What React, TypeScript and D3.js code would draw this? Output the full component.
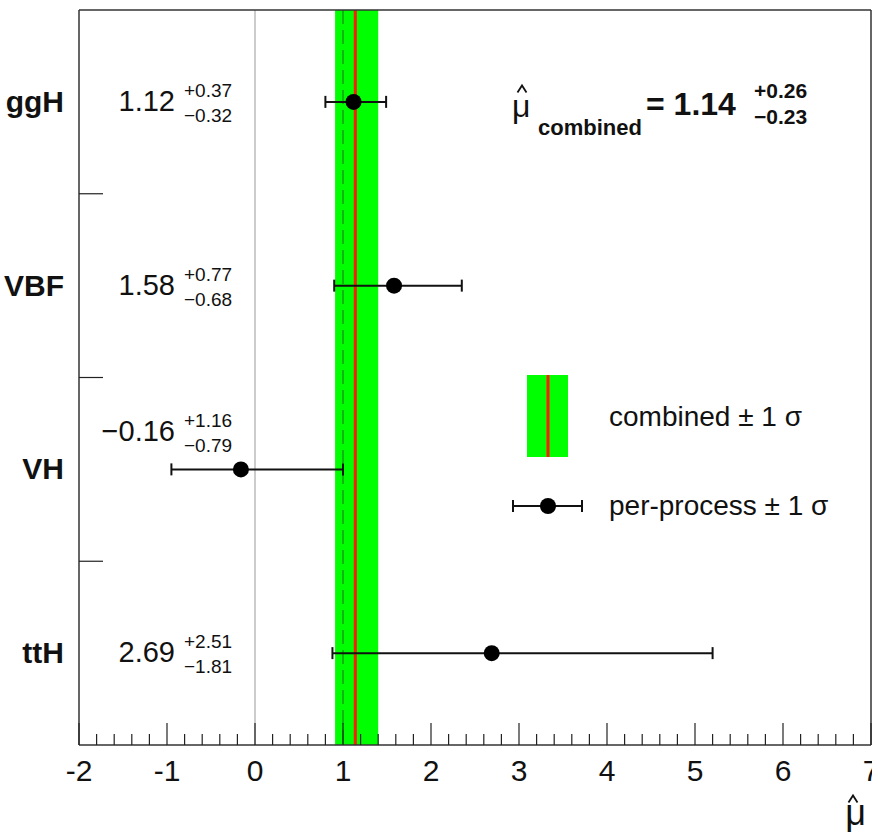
import React from "react";
import * as d3 from "d3";

const processes = ["ggH", "VBF", "VH", "ttH"];
const muValues = [1.12, 1.58, -0.16, 2.69];
const errUp = [0.37, 0.77, 1.16, 2.51];
const errDown = [0.32, 0.68, 0.79, 1.81];
const combinedMu = 1.14;
const combinedUp = 0.26;
const combinedDown = 0.23;
const xTicks = [-2, -1, 0, 1, 2, 3, 4, 5, 6, 7];

const W = 872;
const H = 834;
const left = 79;
const right = 871;
const top = 10;
const bottom = 745;
const FONT = "'Liberation Sans', Arial, Helvetica, sans-serif";

const fmt = (v: number) => (v < 0 ? "\u2212" + Math.abs(v).toFixed(2) : v.toFixed(2));

function Hat({ cx, cy, w, h, sw }: { cx: number; cy: number; w: number; h: number; sw: number }) {
  return (
    <path
      d={`M${cx - w / 2},${cy + h / 2} L${cx},${cy - h / 2} L${cx + w / 2},${cy + h / 2}`}
      fill="none"
      stroke="#111"
      strokeWidth={sw}
    />
  );
}

export default function App() {
  const x = d3.scaleLinear().domain([-2, 7]).range([left, right]);
  const y = d3.scaleBand<string>().domain(processes).range([top, bottom]);
  const yc = (p: string) => (y(p) as number) + y.bandwidth() / 2;
  const minor = d3.range(-2, 7.0001, 0.2).filter((v) => Math.abs(v - Math.round(v)) > 1e-6);
  const bandEdges = processes.slice(1).map((p) => y(p) as number);
  const cap = 6;
  const r = 8;

  return (
    <svg width={W} height={H} style={{ position: "absolute", left: 0, top: 0, background: "#fff" }} fontFamily={FONT}>
      <rect x={0} y={0} width={W} height={H} fill="#fff" />
      {/* combined band */}
      <rect x={x(combinedMu - combinedDown)} y={top} width={x(combinedMu + combinedUp) - x(combinedMu - combinedDown)} height={bottom - top} fill="#00ff00" />
      {/* zero line */}
      <line x1={x(0)} x2={x(0)} y1={top} y2={bottom} stroke="#bbbbbb" strokeWidth={1.5} />
      {/* SM dashed at 1 */}
      <line x1={x(1)} x2={x(1)} y1={top} y2={bottom} stroke="#333" strokeWidth={1} strokeDasharray="14,6" opacity={0.7} />
      {/* combined central */}
      <line x1={x(combinedMu)} x2={x(combinedMu)} y1={top} y2={bottom} stroke="#ff1a00" strokeWidth={3} />

      {/* frame */}
      <line x1={left} x2={left} y1={top} y2={bottom} stroke="#333" strokeWidth={1.5} />
      <line x1={left} x2={right} y1={top} y2={top} stroke="#333" strokeWidth={1.5} />
      <line x1={right} x2={right} y1={top} y2={bottom} stroke="#333" strokeWidth={1.5} />
      <line x1={left} x2={right} y1={bottom} y2={bottom} stroke="#333" strokeWidth={1.5} />

      {/* x ticks */}
      {xTicks.map((t) => (
        <g key={"t" + t}>
          <line x1={x(t)} x2={x(t)} y1={bottom} y2={bottom - 22} stroke="#222" strokeWidth={1.2} />
          <text x={x(t)} y={781} fontSize={30} textAnchor="middle" fill="#111">{String(t)}</text>
        </g>
      ))}
      {minor.map((t, i) => (
        <line key={"m" + i} x1={x(t)} x2={x(t)} y1={bottom} y2={bottom - 11} stroke="#222" strokeWidth={1.2} />
      ))}
      <text x={866} y={825} fontSize={36} textAnchor="end" fill="#111">μ</text>
      <Hat cx={853} cy={799} w={9} h={7} sw={1.8} />

      {/* y ticks */}
      {bandEdges.map((e, i) => (
        <line key={"y" + i} x1={left} x2={left + 24} y1={e} y2={e} stroke="#222" strokeWidth={1.2} />
      ))}

      {processes.map((p, i) => {
        const cy = yc(p);
        const v = muValues[i];
        const lo = v - errDown[i];
        const hi = v + errUp[i];
        const ty = p === "VH" ? cy - 28 : cy + 9;
        return (
          <g key={p}>
            <text x={64} y={cy + 10} fontSize={30} fontWeight="bold" textAnchor="end" fill="#111">{p}</text>
            <line x1={x(lo)} x2={x(hi)} y1={cy} y2={cy} stroke="#111" strokeWidth={2} />
            <line x1={x(lo)} x2={x(lo)} y1={cy - cap} y2={cy + cap} stroke="#111" strokeWidth={2} />
            <line x1={x(hi)} x2={x(hi)} y1={cy - cap} y2={cy + cap} stroke="#111" strokeWidth={2} />
            <circle cx={x(v)} cy={cy} r={r} fill="#000" />
            <text x={175} y={ty} fontSize={29} textAnchor="end" fill="#111">{fmt(v)}</text>
            <text x={184} y={ty - 14} fontSize={19} fill="#111">{"+" + errUp[i].toFixed(2)}</text>
            <text x={184} y={ty + 11} fontSize={19} fill="#111">{"\u2212" + errDown[i].toFixed(2)}</text>
          </g>
        );
      })}

      {/* combined text */}
      <text x={512} y={117} fontSize={32} fill="#111">μ</text>
      <Hat cx={522} cy={89} w={9} h={7} sw={1.8} />
      <text x={538} y={135} fontSize={22} fontWeight="bold" fill="#111">combined</text>
      <text x={646} y={115} fontSize={32} fontWeight="bold" fill="#111">{"= " + combinedMu.toFixed(2)}</text>
      <text x={754} y={98} fontSize={21} fontWeight="bold" fill="#111">{"+" + combinedUp.toFixed(2)}</text>
      <text x={754} y={124} fontSize={21} fontWeight="bold" fill="#111">{"\u2212" + combinedDown.toFixed(2)}</text>

      {/* legend */}
      <rect x={527} y={375} width={41} height={82} fill="#00ff00" />
      <line x1={548} x2={548} y1={375} y2={457} stroke="#ff1a00" strokeWidth={3} />
      <text x={609} y={426} fontSize={28} fill="#111">combined ± 1 σ</text>
      <line x1={513} x2={582} y1={506} y2={506} stroke="#111" strokeWidth={2} />
      <line x1={513} x2={513} y1={500} y2={512} stroke="#111" strokeWidth={2} />
      <line x1={582} x2={582} y1={500} y2={512} stroke="#111" strokeWidth={2} />
      <circle cx={548} cy={506} r={r} fill="#000" />
      <text x={609} y={515} fontSize={28} fill="#111">per-process ± 1 σ</text>
    </svg>
  );
}
